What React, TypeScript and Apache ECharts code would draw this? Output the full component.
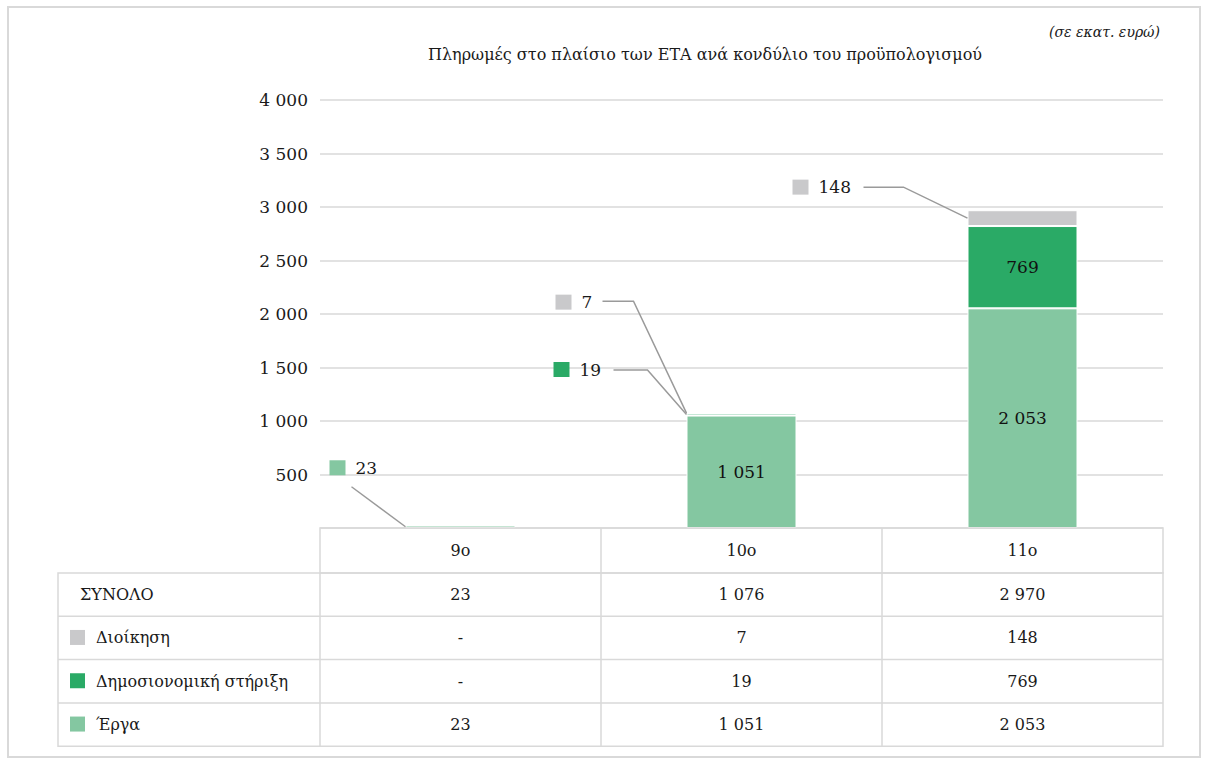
import React, { useEffect, useRef } from 'react';
import * as echarts from 'echarts';

// ---------- data ----------
const categories = ['9ο', '10ο', '11ο'];
const seriesNames = ['Έργα', 'Δημοσιονομική στήριξη', 'Διοίκηση'];
const ergaValues: (number | null)[] = [23, 1051, 2053];
const dimosionomikiValues: (number | null)[] = [null, 19, 769];
const dioikisiValues: (number | null)[] = [null, 7, 148];
const totalValues = [23, 1076, 2970];
const totalLabel = 'ΣΥΝΟΛΟ';
const yMin = 0;
const yMax = 4000;
const yInterval = 500;
const titleText = 'Πληρωμές στο πλαίσιο των ΕΤΑ ανά κονδύλιο του προϋπολογισμού';
const unitText = '(σε εκατ. ευρώ)';

// ---------- styles ----------
const COLORS = ['#84C7A1', '#2AAA66', '#C9C9CB'];
const FONT = 'DejaVu Serif';
const GRID_LEFT = 320;
const GRID_RIGHT_X = 1163;
const GRID_TOP = 100;
const GRID_BOTTOM_Y = 528;
const W = 1209;
const H = 765;
const BAR_W = 110;
const LINE_C = '#d9d9d9';
const TEXT_C = '#1a1a1a';

// callout layout (pixel offsets from the anchor at the segment's left edge)
const callouts = [
  { series: 0, cat: 0, sq: [-76, -59], start: [-54, -40], elbow: null as number[] | null },
  { series: 2, cat: 1, sq: [-131, -111], start: [-84, -112], elbow: [-53, -112] },
  { series: 1, cat: 1, sq: [-133, -45], start: [-73, -44.5], elbow: [-39, -44.5] },
  { series: 2, cat: 2, sq: [-175, -31], start: [-104, -31], elbow: [-64, -31] },
];

const fmt = (n: number | null) =>
  n == null ? '-' : String(n).replace(/\B(?=(\d{3})+(?!\d))/g, ' ');

const seriesData = [ergaValues, dimosionomikiValues, dioikisiValues];

export default function App() {
  const ref = useRef<HTMLDivElement>(null);
  useEffect(() => {
    if (!ref.current) return;
    const chart = echarts.init(ref.current, null, { renderer: 'svg' });
    chart.setOption({
      animation: false,
      textStyle: { fontFamily: FONT },
      title: [
        {
          text: titleText,
          left: 700,
          top: 41,
          textAlign: 'center',
          textStyle: { fontFamily: FONT, fontSize: 16, fontWeight: 'normal', color: TEXT_C },
        },
        {
          text: unitText,
          right: 44,
          top: 20,
          textStyle: { fontFamily: FONT, fontSize: 14, fontStyle: 'italic', fontWeight: 'normal', color: TEXT_C },
        },
      ],
      grid: {
        left: GRID_LEFT,
        right: W - GRID_RIGHT_X,
        top: GRID_TOP,
        bottom: H - GRID_BOTTOM_Y,
        containLabel: false,
      },
      xAxis: {
        type: 'category',
        data: categories,
        axisLine: { show: false },
        axisTick: { show: false },
        axisLabel: { show: false },
        splitLine: { show: false },
      },
      yAxis: {
        type: 'value',
        min: yMin,
        max: yMax,
        interval: yInterval,
        axisLine: { show: false },
        axisTick: { show: false },
        axisLabel: {
          formatter: (v: number) => (v === 0 ? '' : fmt(v)),
          fontFamily: FONT,
          fontSize: 17,
          color: TEXT_C,
          margin: 12,
        },
        splitLine: { lineStyle: { color: LINE_C, width: 1.5 } },
      },
      series: seriesNames.map((name, i) => ({
        name,
        type: 'bar',
        stack: 'total',
        barWidth: BAR_W,
        data: seriesData[i],
        itemStyle: { color: COLORS[i], borderColor: '#ffffff', borderWidth: 1 },
        label: {
          show: true,
          position: 'inside',
          fontFamily: FONT,
          fontSize: 17,
          color: '#111',
          formatter: (p: any) => (p.value != null && p.value > 300 ? fmt(p.value) : ''),
        },
      })),
    });

    const g: any[] = [];
    g.push({
      type: 'rect',
      shape: { x: 8, y: 7, width: 1192, height: 750 },
      style: { fill: 'none', stroke: LINE_C, lineWidth: 2 },
      z: 0,
      silent: true,
    });

    callouts.forEach((c) => {
      const v = seriesData[c.series][c.cat] as number;
      let base = 0;
      for (let s = 0; s < c.series; s++) base += (seriesData[s][c.cat] as number) || 0;
      const p = chart.convertToPixel({ gridIndex: 0 } as any, [c.cat, base + v / 2]) as number[];
      const ax = p[0] - BAR_W / 2;
      const ay = p[1];
      const sqX = ax + c.sq[0];
      const sqY = ay + c.sq[1];
      g.push({
        type: 'rect',
        shape: { x: sqX, y: sqY - 7.5, width: 16, height: 15 },
        style: { fill: COLORS[c.series] },
        z: 10,
      });
      g.push({
        type: 'text',
        x: sqX + 26,
        y: sqY,
        style: {
          text: fmt(v),
          fontFamily: FONT,
          fontSize: 17,
          fill: TEXT_C,
          verticalAlign: 'middle',
        },
        z: 10,
      });
      const pts: number[][] = [[ax + c.start[0], ay + c.start[1]]];
      if (c.elbow) pts.push([ax + c.elbow[0], ay + c.elbow[1]]);
      pts.push([ax, ay]);
      g.push({
        type: 'polyline',
        shape: { points: pts },
        style: { stroke: '#9a9a9a', lineWidth: 1.5, fill: 'none' },
        z: 10,
      });
    });

    const catW = (GRID_RIGHT_X - GRID_LEFT) / categories.length;
    const TABLE_LEFT = 58;
    const headerTop = GRID_BOTTOM_Y;
    const headerH = 45;
    const rowH = 43.3;
    const textStyle = { fontFamily: FONT, fontSize: 16, fill: TEXT_C };

    g.push({
      type: 'rect',
      shape: { x: GRID_LEFT, y: headerTop, width: GRID_RIGHT_X - GRID_LEFT, height: headerH },
      style: { fill: 'none', stroke: LINE_C, lineWidth: 1.5 },
      z: 5,
    });
    categories.forEach((cat, i) => {
      const cx = chart.convertToPixel({ gridIndex: 0 } as any, [i, 0]) as number[];
      g.push({
        type: 'text',
        x: cx[0],
        y: headerTop + headerH / 2,
        style: { ...textStyle, text: cat, align: 'center', verticalAlign: 'middle' },
        z: 6,
      });
      if (i > 0) {
        const x = GRID_LEFT + i * catW;
        g.push({
          type: 'line',
          shape: { x1: x, y1: headerTop, x2: x, y2: headerTop + headerH + rowH * 4 },
          style: { stroke: LINE_C, lineWidth: 1.5 },
          z: 5,
        });
      }
    });

    const rows = [
      { label: totalLabel, color: null as string | null, vals: totalValues as (number | null)[] },
      { label: seriesNames[2], color: COLORS[2], vals: dioikisiValues },
      { label: seriesNames[1], color: COLORS[1], vals: dimosionomikiValues },
      { label: seriesNames[0], color: COLORS[0], vals: ergaValues },
    ];
    const bodyTop = headerTop + headerH;
    g.push({
      type: 'rect',
      shape: { x: TABLE_LEFT, y: bodyTop, width: GRID_RIGHT_X - TABLE_LEFT, height: rowH * rows.length },
      style: { fill: 'none', stroke: LINE_C, lineWidth: 1.5 },
      z: 5,
    });
    g.push({
      type: 'line',
      shape: { x1: GRID_LEFT, y1: bodyTop, x2: GRID_LEFT, y2: bodyTop + rowH * rows.length },
      style: { stroke: LINE_C, lineWidth: 1.5 },
      z: 5,
    });
    rows.forEach((r, ri) => {
      const y0 = bodyTop + ri * rowH;
      const cy = y0 + rowH / 2;
      if (ri > 0) {
        g.push({
          type: 'line',
          shape: { x1: TABLE_LEFT, y1: y0, x2: GRID_RIGHT_X, y2: y0 },
          style: { stroke: LINE_C, lineWidth: 1.5 },
          z: 5,
        });
      }
      if (r.color) {
        g.push({
          type: 'rect',
          shape: { x: 70, y: cy - 8, width: 15, height: 15 },
          style: { fill: r.color },
          z: 6,
        });
      }
      g.push({
        type: 'text',
        x: r.color ? 96 : 80,
        y: cy,
        style: { ...textStyle, text: r.label, align: 'left', verticalAlign: 'middle' },
        z: 6,
      });
      r.vals.forEach((v, ci) => {
        const cx = chart.convertToPixel({ gridIndex: 0 } as any, [ci, 0]) as number[];
        g.push({
          type: 'text',
          x: cx[0],
          y: cy,
          style: { ...textStyle, text: fmt(v), align: 'center', verticalAlign: 'middle' },
          z: 6,
        });
      });
    });

    chart.setOption({ graphic: g });
    return () => chart.dispose();
  }, []);

  return (
    <div
      ref={ref}
      style={{ position: 'absolute', left: 0, top: 0, width: W, height: H, background: '#fff' }}
    />
  );
}
